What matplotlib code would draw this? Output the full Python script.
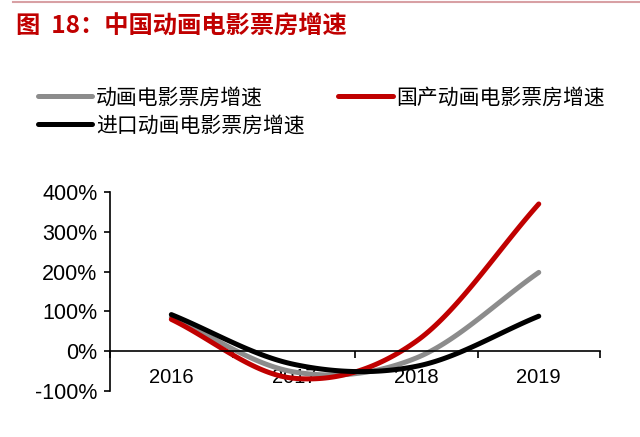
import numpy as np
import matplotlib
matplotlib.use('Agg')
import matplotlib.pyplot as plt
from matplotlib.lines import Line2D

plt.rcParams['font.family'] = ['Liberation Sans', 'Noto Sans CJK SC', 'DejaVu Sans']

years = ['2016', '2017', '2018', '2019']
total_growth = [85, -52, -17, 198]      # 动画电影票房增速 (%)
domestic_growth = [80, -68, 25, 370]    # 国产动画电影票房增速 (%)
import_growth = [92, -33, -38, 88]      # 进口动画电影票房增速 (%)

series_names = ['动画电影票房增速', '国产动画电影票房增速', '进口动画电影票房增速']
series_colors = ['#8C8C8C', '#C00000', '#000000']


def smooth(yv, n=40):
    # excel-style smoothed line (catmull-rom through the points,
    # end tangents follow the first/last segment)
    yv = np.asarray(yv, float)
    xv = np.arange(len(yv), dtype=float)
    ext = np.concatenate([[2 * yv[0] - yv[1]], yv, [2 * yv[-1] - yv[-2]]])
    xs, ys = [], []
    for i in range(len(yv) - 1):
        m0 = (ext[i + 2] - ext[i]) / 2
        m1 = (ext[i + 3] - ext[i + 1]) / 2
        t = np.linspace(0, 1, n)
        h00 = 2 * t**3 - 3 * t**2 + 1
        h10 = t**3 - 2 * t**2 + t
        h01 = -2 * t**3 + 3 * t**2
        h11 = t**3 - t**2
        ys.append(h00 * yv[i] + h10 * m0 + h01 * yv[i + 1] + h11 * m1)
        xs.append(xv[i] + t)
    return np.concatenate(xs), np.concatenate(ys)


fig = plt.figure(figsize=(6.4, 4.37), dpi=100)
ax = fig.add_axes([0.172, 0.1053, 0.7655, 0.4553])

handles = []
for vals, name, c in zip([total_growth, domestic_growth, import_growth],
                         series_names, series_colors):
    sx, sy = smooth(vals)
    ax.plot(sx, sy, color=c, lw=3.6, solid_capstyle='round')
    handles.append(Line2D([], [], color=c, lw=3.6, solid_capstyle='round', label=name))

ax.set_xlim(-0.5, 3.5)
ax.set_ylim(-100, 400)
ax.set_yticks(range(-100, 401, 100))
ax.set_yticklabels([f'{v}%' for v in range(-100, 401, 100)])

for s in ['top', 'right']:
    ax.spines[s].set_visible(False)
ax.spines['bottom'].set_position(('data', 0))
ax.spines['left'].set_linewidth(1.2)
ax.spines['bottom'].set_linewidth(1.2)

ax.set_xticks(range(len(years)))
ax.set_xticklabels(years)
ax.set_xticks(np.arange(-0.5, 3.6, 1), minor=True)
ax.tick_params(axis='x', which='major', length=0, pad=12, labelsize=14.5)
ax.tick_params(axis='x', which='minor', direction='out', length=5, width=1.2)
ax.tick_params(axis='y', direction='out', length=4, width=1.2, labelsize=15.5, pad=5)

# legend: gray & red on first row, black below
leg = fig.legend([handles[0], handles[2], handles[1]],
                 [series_names[0], series_names[2], series_names[1]],
                 ncol=2, loc='upper left', bbox_to_anchor=(0.030, 0.845),
                 frameon=False, handlelength=2.6, handletextpad=0.2,
                 columnspacing=1.6, labelspacing=0.3,
                 prop={'family': ['Noto Sans CJK SC'], 'size': 15})

fig.text(0.025, 0.938, '图  18：中国动画电影票房增速', color='#C00000',
         fontsize=17.5, fontweight='bold', family=['Noto Sans CJK SC'],
         va='center', ha='left')
fig.add_artist(Line2D([0.02, 1.0], [0.995, 0.995], color='#D8A0A4', lw=1.5,
                      transform=fig.transFigure))

fig.savefig('out.png', dpi=100)
